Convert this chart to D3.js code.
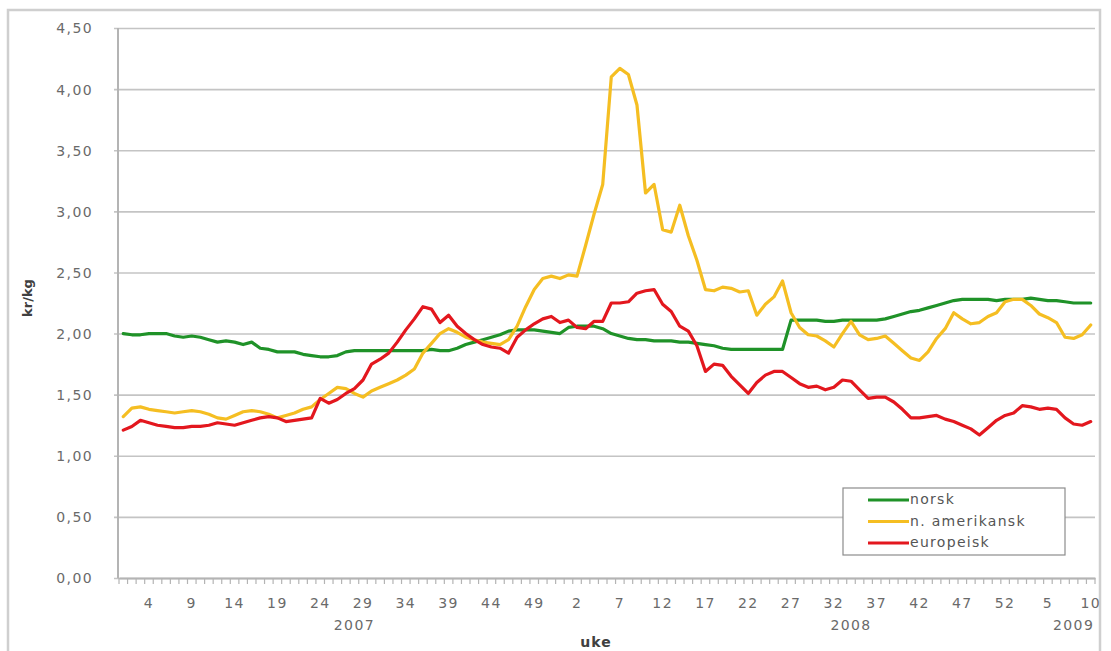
<!DOCTYPE html>
<html>
<head>
<meta charset="utf-8">
<script src="https://cdn.jsdelivr.net/npm/d3@7"></script>
<style>
  html, body { margin: 0; padding: 0; background: #ffffff; }
  svg { display: block; }
  text { font-family: "DejaVu Sans", Verdana, sans-serif; }
</style>
</head>
<body>
<svg id="chart" width="1111" height="651"></svg>
<script>
// ---------- data ----------
const years = [2007, 2008, 2009];
const weeksPerYear = [52, 52, 10];
const yTicks = [0, 0.5, 1, 1.5, 2, 2.5, 3, 3.5, 4, 4.5];
const seriesNames = ["norsk", "n. amerikansk", "europeisk"];
const yearLabels = ["2007", "2008", "2009"];
const yearLabelAnchors = ["2007-28", "2008-34", "2009-8"];

const norsk = [
  2.00,1.99,1.99,2.00,2.00,2.00,1.98,1.97,1.98,1.97,
  1.95,1.93,1.94,1.93,1.91,1.93,1.88,1.87,1.85,1.85,
  1.85,1.83,1.82,1.81,1.81,1.82,1.85,1.86,1.86,1.86,
  1.86,1.86,1.86,1.86,1.86,1.86,1.87,1.86,1.86,1.88,
  1.91,1.93,1.95,1.97,1.99,2.02,2.03,2.03,2.03,2.02,
  2.01,2.00,2.05,2.06,2.06,2.06,2.04,2.00,1.98,1.96,
  1.95,1.95,1.94,1.94,1.94,1.93,1.93,1.92,1.91,1.90,
  1.88,1.87,1.87,1.87,1.87,1.87,1.87,1.87,2.11,2.11,
  2.11,2.11,2.10,2.10,2.11,2.11,2.11,2.11,2.11,2.12,
  2.14,2.16,2.18,2.19,2.21,2.23,2.25,2.27,2.28,2.28,
  2.28,2.28,2.27,2.28,2.28,2.28,2.29,2.28,2.27,2.27,
  2.26,2.25,2.25,2.25
];
const amerikansk = [
  1.32,1.39,1.40,1.38,1.37,1.36,1.35,1.36,1.37,1.36,
  1.34,1.31,1.30,1.33,1.36,1.37,1.36,1.34,1.31,1.33,
  1.35,1.38,1.40,1.46,1.51,1.56,1.55,1.51,1.48,1.53,
  1.56,1.59,1.62,1.66,1.71,1.84,1.92,2.00,2.04,2.01,
  1.97,1.95,1.93,1.92,1.91,1.95,2.06,2.22,2.36,2.45,
  2.47,2.45,2.48,2.47,2.72,2.98,3.22,4.10,4.17,4.12,
  3.87,3.15,3.22,2.85,2.83,3.05,2.80,2.60,2.36,2.35,
  2.38,2.37,2.34,2.35,2.15,2.24,2.30,2.43,2.17,2.05,
  1.99,1.98,1.94,1.89,2.00,2.10,1.99,1.95,1.96,1.98,
  1.92,1.86,1.80,1.78,1.85,1.96,2.04,2.17,2.12,2.08,
  2.09,2.14,2.17,2.26,2.28,2.28,2.23,2.16,2.13,2.09,
  1.97,1.96,1.99,2.07
];
const europeisk = [
  1.21,1.24,1.29,1.27,1.25,1.24,1.23,1.23,1.24,1.24,
  1.25,1.27,1.26,1.25,1.27,1.29,1.31,1.32,1.31,1.28,
  1.29,1.30,1.31,1.47,1.43,1.46,1.51,1.55,1.62,1.75,
  1.79,1.84,1.93,2.03,2.12,2.22,2.20,2.09,2.15,2.06,
  2.00,1.95,1.91,1.89,1.88,1.84,1.97,2.03,2.08,2.12,
  2.14,2.09,2.11,2.05,2.04,2.10,2.10,2.25,2.25,2.26,
  2.33,2.35,2.36,2.24,2.18,2.06,2.02,1.90,1.69,1.75,
  1.74,1.65,1.58,1.51,1.60,1.66,1.69,1.69,1.64,1.59,
  1.56,1.57,1.54,1.56,1.62,1.61,1.54,1.47,1.48,1.48,
  1.44,1.38,1.31,1.31,1.32,1.33,1.30,1.28,1.25,1.22,
  1.17,1.23,1.29,1.33,1.35,1.41,1.40,1.38,1.39,1.38,
  1.31,1.26,1.25,1.28
];
const seriesColors = ["#1f9228", "#f5be22", "#e3171e"];

// ---------- build categories ----------
const categories = [];
years.forEach((yr, yi) => {
  for (let w = 1; w <= weeksPerYear[yi]; w++) categories.push({ key: yr + "-" + w, year: yr, week: w });
});
const seriesData = [norsk, amerikansk, europeisk];

// ---------- layout ----------
const svg = d3.select("#chart");
const plot = { left: 119, right: 1095, top: 28, bottom: 578 };

// frame
svg.append("rect").attr("x", 8).attr("y", 10).attr("width", 1092).attr("height", 700)
  .attr("fill", "#ffffff").attr("stroke", "#cfcfcf").attr("stroke-width", 2.5);

const x = d3.scaleBand().domain(categories.map(c => c.key)).range([plot.left, plot.right]).padding(0);
const y = d3.scaleLinear().domain([0, 4.5]).range([plot.bottom, plot.top]);
const bw = x.bandwidth();
const cx = k => x(k) + bw / 2;

// gridlines + y axis
const yAxis = d3.axisLeft(y).tickValues(yTicks).tickSize(-(plot.right - plot.left)).tickSizeOuter(0)
  .tickFormat(d => d3.format(".2f")(d).replace(".", ","));
const gy = svg.append("g").attr("transform", `translate(${plot.left},0)`).call(yAxis);
gy.select(".domain").remove();
gy.selectAll(".tick line").attr("stroke", "#c4c4c4").attr("stroke-width", 1.6).attr("x1", -5);
gy.selectAll(".tick text").attr("x", -26).attr("dy", "0.35em")
  .attr("fill", "#6a6a6a").style("font-size", "14px").style("letter-spacing", "1.4px");
gy.attr("font-family", null).attr("font-size", null);

// left axis line
svg.append("line").attr("x1", plot.left - 1).attr("x2", plot.left - 1).attr("y1", plot.top).attr("y2", plot.bottom)
  .attr("stroke", "#b4b4b4").attr("stroke-width", 2);

// x axis
const labelKeys = categories.filter((c, i) => (i - 3) % 5 === 0 && i >= 3).map(c => c.key);
const xAxis = d3.axisBottom(x).tickValues(labelKeys).tickSize(0)
  .tickFormat(k => k.split("-")[1]);
const gx = svg.append("g").attr("transform", `translate(0,${plot.bottom})`).call(xAxis);
gx.select(".domain").attr("stroke", "#b4b4b4").attr("stroke-width", 2);
gx.selectAll(".tick text").attr("y", 25).attr("dy", "0.35em")
  .attr("fill", "#6a6a6a").style("font-size", "14px").style("letter-spacing", "1.4px");
gx.attr("font-family", null).attr("font-size", null);

// category tick marks (between categories)
const boundaries = categories.map(c => x(c.key)).concat([plot.right]);
svg.append("g").selectAll("line").data(boundaries).join("line")
  .attr("x1", d => d).attr("x2", d => d).attr("y1", plot.bottom).attr("y2", plot.bottom + 6)
  .attr("stroke", "#b4b4b4").attr("stroke-width", 1.2);

// year labels
svg.append("g").selectAll("text").data(yearLabels).join("text")
  .attr("x", (d, i) => cx(yearLabelAnchors[i]))
  .attr("y", 630).attr("text-anchor", "middle")
  .attr("fill", "#6a6a6a").style("font-size", "14px").style("letter-spacing", "1.4px")
  .text(d => d);

// axis titles
svg.append("text").attr("x", 596).attr("y", 647).attr("text-anchor", "middle")
  .attr("fill", "#404040").style("font-size", "14px").style("font-weight", "bold").style("letter-spacing", "1px")
  .text("uke");
svg.append("text").attr("transform", "translate(32,298) rotate(-90)").attr("text-anchor", "middle")
  .attr("fill", "#404040").style("font-size", "13px").style("font-weight", "bold")
  .text("kr/kg");

// lines
const line = d3.line().x((d, i) => cx(categories[i].key)).y(d => y(d)).curve(d3.curveLinear);
svg.append("g").selectAll("path").data(seriesData).join("path")
  .attr("d", d => line(d)).attr("fill", "none")
  .attr("stroke", (d, i) => seriesColors[i]).attr("stroke-width", 3.2)
  .attr("stroke-linejoin", "round").attr("stroke-linecap", "round");

// legend
const lg = svg.append("g").attr("transform", "translate(843,488)");
lg.append("rect").attr("width", 222).attr("height", 67).attr("fill", "#ffffff")
  .attr("stroke", "#8c8c8c").attr("stroke-width", 1.2);
const items = lg.selectAll("g").data(seriesNames).join("g")
  .attr("transform", (d, i) => `translate(0,${12 + i * 21.5})`);
items.append("line").attr("x1", 25).attr("x2", 66).attr("y1", 0).attr("y2", 0)
  .attr("stroke", (d, i) => seriesColors[i]).attr("stroke-width", 3);
items.append("text").attr("x", 67).attr("y", 0).attr("dy", "0.32em")
  .attr("fill", "#555555").style("font-size", "14px").style("letter-spacing", "1.3px")
  .text(d => d);
</script>
</body>
</html>
